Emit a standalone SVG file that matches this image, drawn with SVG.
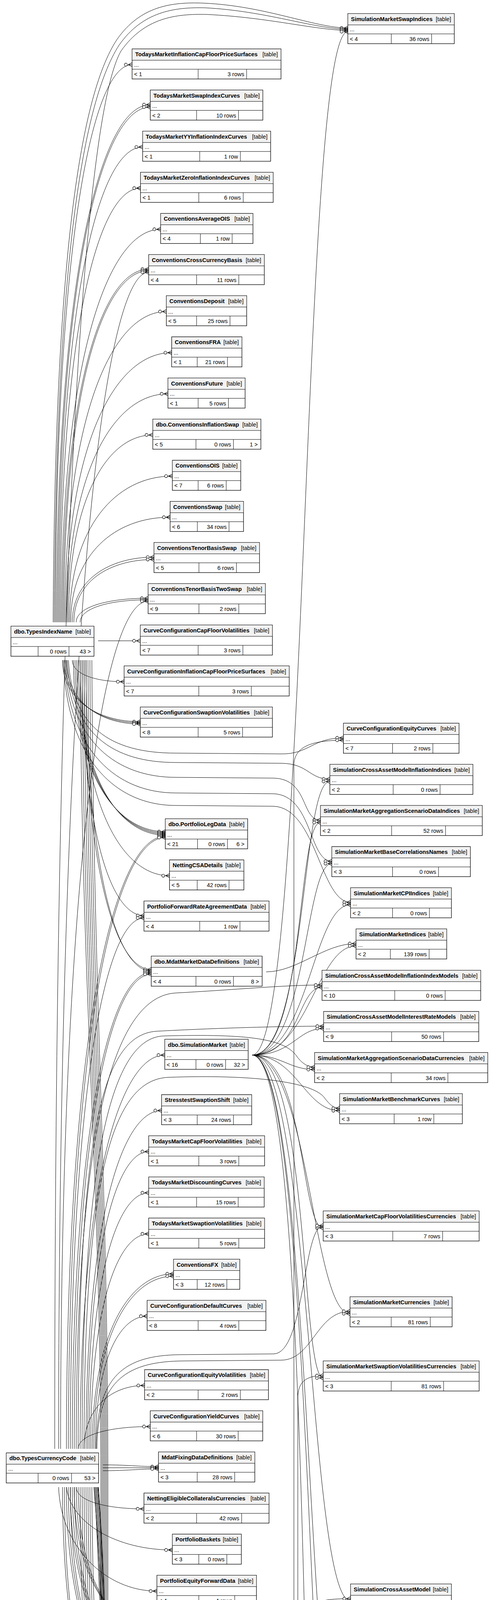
<svg xmlns="http://www.w3.org/2000/svg" width="1264" height="7813" viewBox="0 0 1264 7813">
<style>
text{font-family:"Liberation Sans",Arial,Helvetica,sans-serif;font-size:14.5px;fill:#000}
.n{font-weight:bold}
.e{text-anchor:end}
.o{fill:#fff;stroke:#000;stroke-width:1.3}
.f{stroke-width:3}
.h{fill:#f2f2f2}
.l{fill:none;stroke:#000;stroke-width:1}
#connectors path{fill:none;stroke:#000;stroke-width:1;marker-end:url(#cf)}
#connectors path.k{marker-end:url(#cf2)}
</style>
<defs>
<marker id="cf" markerUnits="userSpaceOnUse" markerWidth="30" markerHeight="16" viewBox="-24 -8 30 16" refX="0" refY="0" orient="auto">
<path d="M-10 0L0-5M-10 0H0M-10 0L0 5" fill="none" stroke="#000" stroke-width="1.2"/>
<circle cx="-16" cy="0" r="3.8" fill="#fff" stroke="#000" stroke-width="1.2"/>
</marker>
<marker id="cf2" markerUnits="userSpaceOnUse" markerWidth="30" markerHeight="16" viewBox="-24 -8 30 16" refX="0" refY="0" orient="auto">
<path d="M-10 0L0-5V5Z" fill="#000" stroke="#000" stroke-width="1.2"/>
<circle cx="-16" cy="0" r="3.8" fill="#fff" stroke="#000" stroke-width="1.2"/>
</marker>
</defs>
<rect width="1264" height="7813" fill="#fff"/>
<g id="connectors">
<path d="M136,1593C140,700 200,250 300,100C360,15 440,5 520,8C680,15 800,70 890,72"/>
<path d="M139,1593C143,720 205,270 305,115C365,30 445,18 525,20C680,28 800,73 890,75"/>
<path d="M140,3709C140,1500 210,300 310,130C370,45 450,35 530,37C690,45 800,76 890,78"/>
<path d="M142,1593C142,665 230,165.5 338,165.5"/>
<path d="M145,1593C145,732 253,268 384.5,268"/>
<path d="M148,1593C148,736 254,274 384.5,274"/>
<path d="M151,1593C151,802 247,376.3 365,376.3"/>
<path d="M154,1593C154,871 246,481.6 359.5,481.6"/>
<path d="M157,1593C157,939 271,587 411,587"/>
<path d="M160,1593C160,1005 259,689 380.5,689"/>
<path d="M163,1593C163,1008 261,693 380.5,693"/>
<path d="M150,3709C150,1751 254,697 380.5,697"/>
<path d="M166,1593C166,1076 283,797.5 425.6,797.5"/>
<path d="M169,1593C169,1144 291,902.8 439.3,902.8"/>
<path d="M172,1593C172,1213 288,1008.2 429.7,1008.2"/>
<path d="M175,1593C175,1281 272,1113.5 391,1113.5"/>
<path d="M178,1593C178,1350 296,1218.8 441,1218.8"/>
<path d="M181,1593C181,1418 295,1324.1 435.3,1324.1"/>
<path d="M185,1593C185,1485 279,1426.3 394,1426.3"/>
<path d="M189,1593C189,1488 281,1432.3 394,1432.3"/>
<path d="M195,1593C195,1553 278,1531.5 379,1531.5"/>
<path d="M205,1593C205,1556 283,1535.5 379,1535.5"/>
<path d="M155,3709C155,2298 256,1539 379,1539"/>
<path d="M251,1640.5H359"/>
<path d="M185,1690C185,1726 245,1745.2 317.6,1745.2"/>
<path d="M160,1690C160,1792 250,1847.5 359,1847.5"/>
<path d="M165,1690C165,1794 252,1850.5 359,1850.5"/>
<path d="M170,1690C170,1796 255,1853.5 359,1853.5"/>
<path d="M175,1690C185,1860 280,1928 450,1928L720,1930C790,1931 800,1889 878.7,1889"/>
<path d="M172,1690C182,1880 290,1952 450,1952L720,1954C790,1955 790,1994.5 844,1994.5"/>
<path d="M168,1690C178,1900 300,1990 450,1990L700,1992C790,1994 770,2099.5 820,2099.5"/>
<path d="M165,1690C175,1925 300,2030 450,2030L700,2032C800,2036 790,2204.8 849,2204.8"/>
<path d="M162,1690C172,1950 300,2062 450,2062L700,2064C810,2068 820,2310 897,2310"/>
<path d="M188,1690C188,1975 294,2129 423,2129"/>
<path d="M192,1690C192,1977 296,2132 423,2132"/>
<path d="M196,1690C196,1979 298,2135 423,2135"/>
<path d="M200,1690C200,1982 300,2138 423,2138"/>
<path d="M205,1690C205,2049 308,2241.8 433.7,2241.8"/>
<path d="M210,1690C210,2115 281,2344 368.4,2344"/>
<path d="M215,1690C215,2205 292,2482 387,2482"/>
<path d="M220,1690C220,2207 295,2486 387,2486"/>
<path class="k" d="M205,1690C210,2600 258,3000 258,3800L258,4840C258,4920 288,4960 325,4960"/>
<path d="M210,1690C215,2600 261,3000 261,3800L261,5072C261,5152 291,5192.5 392.6,5192.5"/>
<path d="M215,1690C220,2600 264,3000 264,3800L264,5175C264,5255 294,5295.5 383,5295.5"/>
<path d="M220,1690C225,2600 267,3000 267,3800L267,5282C267,5362 297,5401.7 376.5,5401.7"/>
<path d="M225,1690C230,2600 270,3000 270,3800L270,5387C270,5467 300,5507 420.8,5507"/>
<path d="M230,1690C235,2600 273,3000 273,3800L273,5495C273,5575 303,5615.3 354,5615.3"/>
<path d="M235,1690C240,2600 276,3000 276,3800L276,5600C276,5680 306,5720.5 349,5720.5"/>
<path d="M681,2488C760,2488 830,2415.5 911,2415.5"/>
<path d="M645,2701C790,2701 770,81 890,81"/>
<path d="M645,2701C785,2701 770,2000.5 844,2000.5"/>
<path d="M645,2701C780,2701 760,2105.5 820,2105.5"/>
<path d="M645,2701C785,2701 780,2210.8 849,2210.8"/>
<path d="M645,2701C790,2701 800,2316 897,2316"/>
<path d="M645,2701C790,2701 810,2421.5 911,2421.5"/>
<path d="M645,2701C770,2701 760,2527.5 824,2527.5"/>
<path d="M645,2701C750,2701 760,2633 828,2633"/>
<path d="M645,2701C720,2701 740,2738 805,2738"/>
<path d="M645,2701C760,2701 780,2843.3 869,2843.3"/>
<path d="M645,2701C780,2701 770,3143.5 827,3143.5"/>
<path d="M645,2701C790,2701 800,3363 895.6,3363"/>
<path d="M645,2701C790,2701 770,3527.5 827,3527.5"/>
<path d="M645,2701C795,2701 790,4098.5 897,4098.5"/>
<path d="M645,2701C790,2701 790,4437.7 858.5,4437.7"/>
<path d="M645,2701C795,2701 790,4659 849,4659"/>
<path d="M645,2701C795,2701 770,4826 809.3,4826"/>
<path d="M170,3709C170,2690 284,2141 423,2141"/>
<path d="M175,3709C175,2692 287,2144 423,2144"/>
<path d="M180,3709C180,2826 265,2350 368.4,2350"/>
<path d="M185,3709C185,2917 276,2490 387,2490"/>
<path d="M190,3709C190,2919 279,2494 387,2494"/>
<path d="M195,3709C195,2850 300,2550 450,2542C600,2534 720,2522 824,2521.5"/>
<path d="M200,3709C200,2900 260,2650 400,2640C550,2632 720,2627 828,2627"/>
<path d="M205,3709C205,3054 302,2701 421.6,2701"/>
<path d="M210,3709C210,2960 285,2655 420,2652C640,2646 730,2660 760,2705C775,2725 790,2732 805,2732"/>
<path d="M215,3709C215,3000 290,2765 430,2758C650,2750 800,2770 830,2810C845,2830 855,2837.3 869,2837.3"/>
<path d="M220,3709C220,3146 307,2843 413.5,2843"/>
<path d="M224,3709C224,3214 294,2948 380.5,2948"/>
<path d="M228,3709C228,3283 297,3053.5 380.5,3053.5"/>
<path d="M232,3709C232,3351 299,3158.7 380.5,3158.7"/>
<path d="M236,3709C236,3418 330,3261 444,3261"/>
<path d="M240,3709C240,3422 332,3267 444,3267"/>
<path d="M244,3709C244,3488 304,3369.4 376.5,3369.4"/>
<path d="M246,3709C246,3520 320,3470 460,3468L700,3466C780,3465 775,3137.5 827,3137.5"/>
<path d="M248,3709C248,3530 330,3485 470,3484L720,3482C800,3481 810,3357 895.6,3357"/>
<path d="M215,3709C215,3604 285,3546.8 370,3546.8"/>
<path d="M200,3709C200,3672 283,3652 384.5,3652"/>
<path d="M263,3750C330,3750 350,3754.5 405.5,3754.5"/>
<path d="M263,3757.5H405.5"/>
<path d="M263,3765C330,3765 350,3760.5 405.5,3760.5"/>
<path d="M195,3807C195,3843 273,3862.7 368.4,3862.7"/>
<path d="M170,3807C180,3900 300,3967.9 441,3967.9"/>
<path d="M150,3807C155,3960 270,4073.2 401.5,4073.2"/>
<path d="M190,3807C190,4046 288,4175.5 407,4175.5"/>
<path d="M195,3807C195,4048 290,4178.5 407,4178.5"/>
<path d="M200,3807C200,4050 293,4181.5 407,4181.5"/>
<path d="M180,3807C180,4115 286,4280.8 415,4280.8"/>
<path d="M185,3807C185,4117 288,4283.8 415,4283.8"/>
<path d="M190,3807C190,4119 291,4286.8 415,4286.8"/>
<path d="M170,3807C170,4183 282,4386.1 420,4386.1"/>
<path d="M175,3807C175,4185 285,4389.1 420,4389.1"/>
<path d="M180,3807C180,4187 288,4392.1 420,4392.1"/>
<path d="M165,3807C165,4254 245,4494.5 343.4,4494.5"/>
<path d="M160,3807C160,4322 277,4599.7 420,4599.7"/>
<path d="M205,3807C210,4420 235,4660 440,4660L700,4660C745,4660 752,4630 752,4585L752,1960C752,1915 790,1895 878.7,1895"/>
<path d="M210,3807C215,4440 245,4676 450,4676L700,4676C755,4676 762,4645 762,4600L762,3580C762,3540 780,3521.5 827,3521.5"/>
<path d="M215,3807C220,4470 255,4726 460,4726L700,4726C765,4726 772,4695 772,4650L772,4150C772,4110 800,4092.5 897,4092.5"/>
<path d="M220,3807C225,4490 265,4747 470,4747L700,4747C775,4747 782,4715 782,4675L782,4480C782,4445 810,4431.7 858.5,4431.7"/>
<path d="M225,3807C230,4520 275,4789 480,4789L700,4789C780,4789 790,4760 790,4725L790,4690C790,4665 810,4653 849,4653"/>
<path d="M230,3807C235,4550 285,4827 490,4827C620,4827 740,4817 809.3,4817"/>
<path d="M235,3807C240,4570 295,4842 500,4842C630,4842 750,4823 809.3,4821"/>
<path class="k" d="M240,3807C275,4200 275,4931 325,4931"/>
<path d="M242,3807C280,4500 280,5829 400.6,5829"/>
<path d="M244,3807C284,4500 284,5934.2 408.7,5934.2"/>
<path d="M246,3807C288,4500 288,6039.5 372.4,6039.5"/>
<path d="M248,3807C292,4500 292,6144.8 400.6,6144.8"/>
<path d="M250,3807C296,4500 296,6355.5 390,6355.5"/>
<path d="M251,3807C300,4500 300,6460.8 380.5,6460.8"/>
<path d="M252,3807C304,4500 304,6882 394,6882"/>
<path class="k" d="M135,6357C135,5417 220,4911 325,4911"/>
<path d="M138,6357C138,5598 253,5189.5 392.6,5189.5"/>
<path d="M141,6357C141,5873 237,5612.3 354,5612.3"/>
<path d="M144,6357C144,5941 236,5717.5 349,5717.5"/>
<path d="M150,6357C150,6147 250,6033.5 372.4,6033.5"/>
<path d="M171,6357C171,6286 262,6247.1 372.4,6247.1"/>
<path d="M255,6385C320,6380 340,6349.5 390,6349.5"/>
<path d="M255,6425C320,6430 330,6454.8 380.5,6454.8"/>
<path d="M255,6435C300,6440 300,6560 383,6560"/>
<path d="M255,6438C305,6445 300,6665.5 408.7,6665.5"/>
<path d="M255,6440C310,6450 300,6770.3 396.6,6770.3"/>
<path d="M255,6442C312,6455 300,6876 394,6876"/>
<path d="M255,6443C315,6460 300,6981.4 376.5,6981.4"/>
<path d="M255,6444C318,6465 300,7087 362,7087"/>
<path d="M255,6444C320,6470 300,7191.5 395,7191.5"/>
<path class="k" d="M246,6478C300,6470 290,5004 325,5004"/>
<path d="M246,6480C305,6470 300,5195.5 392.6,5195.5"/>
<path d="M246,6482C308,6470 300,5301.5 383,5301.5"/>
<path d="M246,6484C310,6472 300,5407.7 376.5,5407.7"/>
<path d="M246,6486C312,6472 305,5513 420.8,5513"/>
<path d="M246,6488C312,6474 300,5618.3 354,5618.3"/>
<path d="M246,6490C312,6476 300,5723.5 349,5723.5"/>
<path d="M246,6492C314,6478 310,5823 400.6,5823"/>
<path d="M246,6494C314,6480 310,5928.2 408.7,5928.2"/>
<path d="M246,6496C315,6482 305,6036.5 372.4,6036.5"/>
<path d="M246,6498C315,6484 310,6138.8 400.6,6138.8"/>
<path d="M246,6500C300,6490 320,6352.5 390,6352.5"/>
<path d="M246,6505C300,6500 320,6457.8 380.5,6457.8"/>
<path d="M246,6540C300,6548 330,6566 383,6566"/>
<path d="M190,6560C190,6632 288,6671.5 408.7,6671.5"/>
<path d="M185,6560C185,6701 280,6776.3 396.6,6776.3"/>
<path d="M180,6560C180,6767 276,6879 394,6879"/>
<path d="M175,6560C175,6838 266,6987.4 376.5,6987.4"/>
<path d="M170,6560C170,6906 256,7093 362,7093"/>
<path d="M165,6560C165,6974 268,7197.5 395,7197.5"/>
<path d="M160,6560C160,7041 278,7300 423.2,7300"/>
<path d="M155,6560C155,7110 276,7405.7 424.8,7405.7"/>
<path d="M150,6560C150,7178 268,7511.2 412,7511.2"/>
<path d="M145,6560C145,7247 277,7616.7 437.7,7616.7"/>
<path d="M140,6560C140,7315 268,7721.4 424.8,7721.4"/>
</g>
<g id="TodaysMarketInflationCapFloorPriceSurfaces" transform="translate(338,125.2)"><rect class="o" width="381" height="77"/><rect class="h" x="0.7" y="0.7" width="379.6" height="28"/><path class="l" d="M0 29H381M0 52H381M169 52V77M293 52V77"/><text class="n" x="8" y="19">TodaysMarketInflationCapFloorPriceSurfaces</text><text class="e" x="373" y="19">[table]</text><text x="5" y="45.5">...</text><text x="5" y="70">&lt; 1</text><text class="e" x="287" y="70">3 rows</text></g>
<g id="TodaysMarketSwapIndexCurves" transform="translate(384.5,230.5)"><rect class="o" width="288" height="77"/><rect class="h" x="0.7" y="0.7" width="286.6" height="28"/><path class="l" d="M0 29H288M0 52H288M118.5 52V77M225.7 52V77"/><text class="n" x="8" y="19">TodaysMarketSwapIndexCurves</text><text class="e" x="280" y="19">[table]</text><text x="5" y="45.5">...</text><text x="5" y="70">&lt; 2</text><text class="e" x="219.7" y="70">10 rows</text></g>
<g id="TodaysMarketYYInflationIndexCurves" transform="translate(365,335.8)"><rect class="o" width="327.5" height="77"/><rect class="h" x="0.7" y="0.7" width="326.1" height="28"/><path class="l" d="M0 29H327.5M0 52H327.5M146 52V77M250 52V77"/><text class="n" x="8" y="19">TodaysMarketYYInflationIndexCurves</text><text class="e" x="319.5" y="19">[table]</text><text x="5" y="45.5">...</text><text x="5" y="70">&lt; 1</text><text class="e" x="244" y="70">1 row</text></g>
<g id="TodaysMarketZeroInflationIndexCurves" transform="translate(359.5,441.1)"><rect class="o" width="339.5" height="77"/><rect class="h" x="0.7" y="0.7" width="338.1" height="28"/><path class="l" d="M0 29H339.5M0 52H339.5M149.2 52V77M262.8 52V77"/><text class="n" x="8" y="19">TodaysMarketZeroInflationIndexCurves</text><text class="e" x="331.5" y="19">[table]</text><text x="5" y="45.5">...</text><text x="5" y="70">&lt; 1</text><text class="e" x="256.8" y="70">6 rows</text></g>
<g id="ConventionsAverageOIS" transform="translate(411,546.4)"><rect class="o" width="236.3" height="77"/><rect class="h" x="0.7" y="0.7" width="234.9" height="28"/><path class="l" d="M0 29H236.3M0 52H236.3M101.7 52V77M183 52V77"/><text class="n" x="8" y="19">ConventionsAverageOIS</text><text class="e" x="228.3" y="19">[table]</text><text x="5" y="45.5">...</text><text x="5" y="70">&lt; 4</text><text class="e" x="177" y="70">1 row</text></g>
<g id="ConventionsCrossCurrencyBasis" transform="translate(380.5,651.7)"><rect class="o" width="295.8" height="77"/><rect class="h" x="0.7" y="0.7" width="294.4" height="28"/><path class="l" d="M0 29H295.8M0 52H295.8M122.5 52V77M230.5 52V77"/><text class="n" x="8" y="19">ConventionsCrossCurrencyBasis</text><text class="e" x="287.8" y="19">[table]</text><text x="5" y="45.5">...</text><text x="5" y="70">&lt; 4</text><text class="e" x="224.5" y="70">11 rows</text></g>
<g id="ConventionsDeposit" transform="translate(425.6,757)"><rect class="o" width="205.6" height="77"/><rect class="h" x="0.7" y="0.7" width="204.2" height="28"/><path class="l" d="M0 29H205.6M0 52H205.6M77.4 52V77M162.9 52V77"/><text class="n" x="8" y="19">ConventionsDeposit</text><text class="e" x="197.6" y="19">[table]</text><text x="5" y="45.5">...</text><text x="5" y="70">&lt; 5</text><text class="e" x="156.9" y="70">25 rows</text></g>
<g id="ConventionsFRA" transform="translate(439.3,862.3)"><rect class="o" width="179.7" height="77"/><rect class="h" x="0.7" y="0.7" width="178.3" height="28"/><path class="l" d="M0 29H179.7M0 52H179.7M65.3 52V77M142.7 52V77"/><text class="n" x="8" y="19">ConventionsFRA</text><text class="e" x="171.7" y="19">[table]</text><text x="5" y="45.5">...</text><text x="5" y="70">&lt; 1</text><text class="e" x="136.7" y="70">21 rows</text></g>
<g id="ConventionsFuture" transform="translate(429.7,967.7)"><rect class="o" width="197.5" height="77"/><rect class="h" x="0.7" y="0.7" width="196.1" height="28"/><path class="l" d="M0 29H197.5M0 52H197.5M77.3 52V77M154.7 52V77"/><text class="n" x="8" y="19">ConventionsFuture</text><text class="e" x="189.5" y="19">[table]</text><text x="5" y="45.5">...</text><text x="5" y="70">&lt; 1</text><text class="e" x="148.7" y="70">5 rows</text></g>
<g id="dbo_ConventionsInflationSwap" transform="translate(391,1073)"><rect class="o" width="276.5" height="77"/><rect class="h" x="0.7" y="0.7" width="275.1" height="28"/><path class="l" d="M0 29H276.5M0 52H276.5M110.4 52V77M206.3 52V77"/><text class="n" x="8" y="19">dbo.ConventionsInflationSwap</text><text class="e" x="268.5" y="19">[table]</text><text x="5" y="45.5">...</text><text x="5" y="70">&lt; 5</text><text class="e" x="200.3" y="70">0 rows</text><text class="e" x="268.5" y="70">1 &gt;</text></g>
<g id="ConventionsOIS" transform="translate(441,1178.3)"><rect class="o" width="175" height="77"/><rect class="h" x="0.7" y="0.7" width="173.6" height="28"/><path class="l" d="M0 29H175M0 52H175M66 52V77M137.8 52V77"/><text class="n" x="8" y="19">ConventionsOIS</text><text class="e" x="167" y="19">[table]</text><text x="5" y="45.5">...</text><text x="5" y="70">&lt; 7</text><text class="e" x="131.8" y="70">6 rows</text></g>
<g id="ConventionsSwap" transform="translate(435.3,1283.6)"><rect class="o" width="187.8" height="77"/><rect class="h" x="0.7" y="0.7" width="186.4" height="28"/><path class="l" d="M0 29H187.8M0 52H187.8M69.7 52V77M150.7 52V77"/><text class="n" x="8" y="19">ConventionsSwap</text><text class="e" x="179.8" y="19">[table]</text><text x="5" y="45.5">...</text><text x="5" y="70">&lt; 6</text><text class="e" x="144.7" y="70">34 rows</text></g>
<g id="ConventionsTenorBasisSwap" transform="translate(394,1388.8)"><rect class="o" width="270" height="77"/><rect class="h" x="0.7" y="0.7" width="268.6" height="28"/><path class="l" d="M0 29H270M0 52H270M115 52V77M211 52V77"/><text class="n" x="8" y="19">ConventionsTenorBasisSwap</text><text class="e" x="262" y="19">[table]</text><text x="5" y="45.5">...</text><text x="5" y="70">&lt; 5</text><text class="e" x="205" y="70">6 rows</text></g>
<g id="ConventionsTenorBasisTwoSwap" transform="translate(379,1494)"><rect class="o" width="300" height="77"/><rect class="h" x="0.7" y="0.7" width="298.6" height="28"/><path class="l" d="M0 29H300M0 52H300M130 52V77M232 52V77"/><text class="n" x="8" y="19">ConventionsTenorBasisTwoSwap</text><text class="e" x="292" y="19">[table]</text><text x="5" y="45.5">...</text><text x="5" y="70">&lt; 9</text><text class="e" x="226" y="70">2 rows</text></g>
<g id="dbo_TypesIndexName" transform="translate(28,1603)"><rect class="o" width="212.5" height="77"/><rect class="h" x="0.7" y="0.7" width="211.1" height="28"/><path class="l" d="M0 29H212.5M0 52H212.5M69.5 52V77M148.5 52V77"/><text class="n" x="8" y="19">dbo.TypesIndexName</text><text class="e" x="204.5" y="19">[table]</text><text x="5" y="45.5">...</text><text class="e" x="142.5" y="70">0 rows</text><text class="e" x="204.5" y="70">43 &gt;</text></g>
<g id="CurveConfigurationCapFloorVolatilities" transform="translate(359,1600)"><rect class="o" width="338" height="77"/><rect class="h" x="0.7" y="0.7" width="336.6" height="28"/><path class="l" d="M0 29H338M0 52H338M148 52V77M262.5 52V77"/><text class="n" x="8" y="19">CurveConfigurationCapFloorVolatilities</text><text class="e" x="330" y="19">[table]</text><text x="5" y="45.5">...</text><text x="5" y="70">&lt; 7</text><text class="e" x="256.5" y="70">3 rows</text></g>
<g id="CurveConfigurationInflationCapFloorPriceSurfaces" transform="translate(317.6,1704.7)"><rect class="o" width="422.4" height="77"/><rect class="h" x="0.7" y="0.7" width="421" height="28"/><path class="l" d="M0 29H422.4M0 52H422.4M191.1 52V77M325.4 52V77"/><text class="n" x="8" y="19">CurveConfigurationInflationCapFloorPriceSurfaces</text><text class="e" x="414.4" y="19">[table]</text><text x="5" y="45.5">...</text><text x="5" y="70">&lt; 7</text><text class="e" x="319.4" y="70">3 rows</text></g>
<g id="CurveConfigurationSwaptionVolatilities" transform="translate(359,1810)"><rect class="o" width="338" height="77"/><rect class="h" x="0.7" y="0.7" width="336.6" height="28"/><path class="l" d="M0 29H338M0 52H338M148 52V77M261.7 52V77"/><text class="n" x="8" y="19">CurveConfigurationSwaptionVolatilities</text><text class="e" x="330" y="19">[table]</text><text x="5" y="45.5">...</text><text x="5" y="70">&lt; 8</text><text class="e" x="255.7" y="70">5 rows</text></g>
<g id="dbo_PortfolioLegData" transform="translate(423,2096)"><rect class="o" width="210.6" height="77"/><rect class="h" x="0.7" y="0.7" width="209.2" height="28"/><path class="l" d="M0 29H210.6M0 52H210.6M82.4 52V77M159 52V77"/><text class="n" x="8" y="19">dbo.PortfolioLegData</text><text class="e" x="202.6" y="19">[table]</text><text x="5" y="45.5">...</text><text x="5" y="70">&lt; 21</text><text class="e" x="153" y="70">0 rows</text><text class="e" x="202.6" y="70">6 &gt;</text></g>
<g id="NettingCSADetails" transform="translate(433.7,2201.3)"><rect class="o" width="190.3" height="77"/><rect class="h" x="0.7" y="0.7" width="188.9" height="28"/><path class="l" d="M0 29H190.3M0 52H190.3M70.9 52V77M152.3 52V77"/><text class="n" x="8" y="19">NettingCSADetails</text><text class="e" x="182.3" y="19">[table]</text><text x="5" y="45.5">...</text><text x="5" y="70">&lt; 5</text><text class="e" x="146.3" y="70">42 rows</text></g>
<g id="PortfolioForwardRateAgreementData" transform="translate(368.4,2306.6)"><rect class="o" width="320" height="77"/><rect class="h" x="0.7" y="0.7" width="318.6" height="28"/><path class="l" d="M0 29H320M0 52H320M142.6 52V77M245.6 52V77"/><text class="n" x="8" y="19">PortfolioForwardRateAgreementData</text><text class="e" x="312" y="19">[table]</text><text x="5" y="45.5">...</text><text x="5" y="70">&lt; 4</text><text class="e" x="239.6" y="70">1 row</text></g>
<g id="dbo_MdatMarketDataDefinitions" transform="translate(387,2447.6)"><rect class="o" width="283.7" height="77"/><rect class="h" x="0.7" y="0.7" width="282.3" height="28"/><path class="l" d="M0 29H283.7M0 52H283.7M114.4 52V77M210.3 52V77"/><text class="n" x="8" y="19">dbo.MdatMarketDataDefinitions</text><text class="e" x="275.7" y="19">[table]</text><text x="5" y="45.5">...</text><text x="5" y="70">&lt; 4</text><text class="e" x="204.3" y="70">0 rows</text><text class="e" x="275.7" y="70">8 &gt;</text></g>
<g id="dbo_SimulationMarket" transform="translate(421.6,2660.5)"><rect class="o" width="213.4" height="77"/><rect class="h" x="0.7" y="0.7" width="212" height="28"/><path class="l" d="M0 29H213.4M0 52H213.4M79.8 52V77M155.6 52V77"/><text class="n" x="8" y="19">dbo.SimulationMarket</text><text class="e" x="205.4" y="19">[table]</text><text x="5" y="45.5">...</text><text x="5" y="70">&lt; 16</text><text class="e" x="149.6" y="70">0 rows</text><text class="e" x="205.4" y="70">32 &gt;</text></g>
<g id="StresstestSwaptionShift" transform="translate(413.5,2802.3)"><rect class="o" width="230.5" height="77"/><rect class="h" x="0.7" y="0.7" width="229.1" height="28"/><path class="l" d="M0 29H230.5M0 52H230.5M91.1 52V77M183.8 52V77"/><text class="n" x="8" y="19">StresstestSwaptionShift</text><text class="e" x="222.5" y="19">[table]</text><text x="5" y="45.5">...</text><text x="5" y="70">&lt; 3</text><text class="e" x="177.8" y="70">24 rows</text></g>
<g id="TodaysMarketCapFloorVolatilities" transform="translate(380.5,2907.6)"><rect class="o" width="296.5" height="77"/><rect class="h" x="0.7" y="0.7" width="295.1" height="28"/><path class="l" d="M0 29H296.5M0 52H296.5M128.2 52V77M230.5 52V77"/><text class="n" x="8" y="19">TodaysMarketCapFloorVolatilities</text><text class="e" x="288.5" y="19">[table]</text><text x="5" y="45.5">...</text><text x="5" y="70">&lt; 1</text><text class="e" x="224.5" y="70">3 rows</text></g>
<g id="TodaysMarketDiscountingCurves" transform="translate(380.5,3013)"><rect class="o" width="295.5" height="77"/><rect class="h" x="0.7" y="0.7" width="294.1" height="28"/><path class="l" d="M0 29H295.5M0 52H295.5M122.5 52V77M228.9 52V77"/><text class="n" x="8" y="19">TodaysMarketDiscountingCurves</text><text class="e" x="287.5" y="19">[table]</text><text x="5" y="45.5">...</text><text x="5" y="70">&lt; 1</text><text class="e" x="222.9" y="70">15 rows</text></g>
<g id="TodaysMarketSwaptionVolatilities" transform="translate(380.5,3118.2)"><rect class="o" width="296.5" height="77"/><rect class="h" x="0.7" y="0.7" width="295.1" height="28"/><path class="l" d="M0 29H296.5M0 52H296.5M128.2 52V77M230.5 52V77"/><text class="n" x="8" y="19">TodaysMarketSwaptionVolatilities</text><text class="e" x="288.5" y="19">[table]</text><text x="5" y="45.5">...</text><text x="5" y="70">&lt; 1</text><text class="e" x="224.5" y="70">5 rows</text></g>
<g id="ConventionsFX" transform="translate(444,3223.6)"><rect class="o" width="169.5" height="77"/><rect class="h" x="0.7" y="0.7" width="168.1" height="28"/><path class="l" d="M0 29H169.5M0 52H169.5M60.6 52V77M136.4 52V77"/><text class="n" x="8" y="19">ConventionsFX</text><text class="e" x="161.5" y="19">[table]</text><text x="5" y="45.5">...</text><text x="5" y="70">&lt; 3</text><text class="e" x="130.4" y="70">12 rows</text></g>
<g id="CurveConfigurationDefaultCurves" transform="translate(376.5,3328.9)"><rect class="o" width="303.9" height="77"/><rect class="h" x="0.7" y="0.7" width="302.5" height="28"/><path class="l" d="M0 29H303.9M0 52H303.9M130.5 52V77M234.5 52V77"/><text class="n" x="8" y="19">CurveConfigurationDefaultCurves</text><text class="e" x="295.9" y="19">[table]</text><text x="5" y="45.5">...</text><text x="5" y="70">&lt; 8</text><text class="e" x="228.5" y="70">4 rows</text></g>
<g id="CurveConfigurationEquityVolatilities" transform="translate(370,3506.3)"><rect class="o" width="316.8" height="77"/><rect class="h" x="0.7" y="0.7" width="315.4" height="28"/><path class="l" d="M0 29H316.8M0 52H316.8M137 52V77M245 52V77"/><text class="n" x="8" y="19">CurveConfigurationEquityVolatilities</text><text class="e" x="308.8" y="19">[table]</text><text x="5" y="45.5">...</text><text x="5" y="70">&lt; 2</text><text class="e" x="239" y="70">2 rows</text></g>
<g id="CurveConfigurationYieldCurves" transform="translate(384.5,3611.6)"><rect class="o" width="287.8" height="77"/><rect class="h" x="0.7" y="0.7" width="286.4" height="28"/><path class="l" d="M0 29H287.8M0 52H287.8M118.5 52V77M224.9 52V77"/><text class="n" x="8" y="19">CurveConfigurationYieldCurves</text><text class="e" x="279.8" y="19">[table]</text><text x="5" y="45.5">...</text><text x="5" y="70">&lt; 6</text><text class="e" x="218.9" y="70">30 rows</text></g>
<g id="dbo_TypesCurrencyCode" transform="translate(16,3719.4)"><rect class="o" width="236.3" height="77"/><rect class="h" x="0.7" y="0.7" width="234.9" height="28"/><path class="l" d="M0 29H236.3M0 52H236.3M81.5 52V77M167 52V77"/><text class="n" x="8" y="19">dbo.TypesCurrencyCode</text><text class="e" x="228.3" y="19">[table]</text><text x="5" y="45.5">...</text><text class="e" x="161" y="70">0 rows</text><text class="e" x="228.3" y="70">53 &gt;</text></g>
<g id="MdatFixingDataDefinitions" transform="translate(405.5,3717)"><rect class="o" width="246.5" height="77"/><rect class="h" x="0.7" y="0.7" width="245.1" height="28"/><path class="l" d="M0 29H246.5M0 52H246.5M99.1 52V77M195.1 52V77"/><text class="n" x="8" y="19">MdatFixingDataDefinitions</text><text class="e" x="238.5" y="19">[table]</text><text x="5" y="45.5">...</text><text x="5" y="70">&lt; 3</text><text class="e" x="189.1" y="70">28 rows</text></g>
<g id="NettingEligibleCollateralsCurrencies" transform="translate(368.4,3822.2)"><rect class="o" width="320" height="77"/><rect class="h" x="0.7" y="0.7" width="318.6" height="28"/><path class="l" d="M0 29H320M0 52H320M134.6 52V77M249.9 52V77"/><text class="n" x="8" y="19">NettingEligibleCollateralsCurrencies</text><text class="e" x="312" y="19">[table]</text><text x="5" y="45.5">...</text><text x="5" y="70">&lt; 2</text><text class="e" x="243.9" y="70">42 rows</text></g>
<g id="PortfolioBaskets" transform="translate(441,3927.4)"><rect class="o" width="176.5" height="77"/><rect class="h" x="0.7" y="0.7" width="175.1" height="28"/><path class="l" d="M0 29H176.5M0 52H176.5M67.7 52V77M139.4 52V77"/><text class="n" x="8" y="19">PortfolioBaskets</text><text class="e" x="168.5" y="19">[table]</text><text x="5" y="45.5">...</text><text x="5" y="70">&lt; 3</text><text class="e" x="133.4" y="70">0 rows</text></g>
<g id="PortfolioEquityForwardData" transform="translate(401.5,4032.7)"><rect class="o" width="254.7" height="77"/><rect class="h" x="0.7" y="0.7" width="253.3" height="28"/><path class="l" d="M0 29H254.7M0 52H254.7M107.2 52V77M199.1 52V77"/><text class="n" x="8" y="19">PortfolioEquityForwardData</text><text class="e" x="246.7" y="19">[table]</text><text x="5" y="45.5">...</text><text x="5" y="70">&lt; 4</text><text class="e" x="193.1" y="70">4 rows</text></g>
<g id="PortfolioEquityOptionData" transform="translate(407,4138)"><rect class="o" width="243.5" height="77"/><rect class="h" x="0.7" y="0.7" width="242.1" height="28"/><path class="l" d="M0 29H243.5M0 52H243.5M97.6 52V77M192 52V77"/><text class="n" x="8" y="19">PortfolioEquityOptionData</text><text class="e" x="235.5" y="19">[table]</text><text x="5" y="45.5">...</text><text x="5" y="70">&lt; 9</text><text class="e" x="186" y="70">10 rows</text></g>
<g id="PortfolioFxForwardData" transform="translate(415,4243.3)"><rect class="o" width="227.5" height="77"/><rect class="h" x="0.7" y="0.7" width="226.1" height="28"/><path class="l" d="M0 29H227.5M0 52H227.5M93.7 52V77M179 52V77"/><text class="n" x="8" y="19">PortfolioFxForwardData</text><text class="e" x="219.5" y="19">[table]</text><text x="5" y="45.5">...</text><text x="5" y="70">&lt; 3</text><text class="e" x="173" y="70">2 rows</text></g>
<g id="PortfolioFxOptionData" transform="translate(420,4348.6)"><rect class="o" width="217.6" height="77"/><rect class="h" x="0.7" y="0.7" width="216.2" height="28"/><path class="l" d="M0 29H217.6M0 52H217.6M88.7 52V77M171 52V77"/><text class="n" x="8" y="19">PortfolioFxOptionData</text><text class="e" x="209.6" y="19">[table]</text><text x="5" y="45.5">...</text><text x="5" y="70">&lt; 9</text><text class="e" x="165" y="70">5 rows</text></g>
<g id="PortfolioIndexCreditDefaultSwapOptionData" transform="translate(343.4,4454)"><rect class="o" width="370.8" height="77"/><rect class="h" x="0.7" y="0.7" width="369.4" height="28"/><path class="l" d="M0 29H370.8M0 52H370.8M165.3 52V77M286.2 52V77"/><text class="n" x="8" y="19">PortfolioIndexCreditDefaultSwapOptionData</text><text class="e" x="362.8" y="19">[table]</text><text x="5" y="45.5">...</text><text x="5" y="70">&lt; 8</text><text class="e" x="280.2" y="70">0 rows</text></g>
<g id="PortfolioSwaptionData" transform="translate(420,4559.2)"><rect class="o" width="217.6" height="77"/><rect class="h" x="0.7" y="0.7" width="216.2" height="28"/><path class="l" d="M0 29H217.6M0 52H217.6M84.6 52V77M172.5 52V77"/><text class="n" x="8" y="19">PortfolioSwaptionData</text><text class="e" x="209.6" y="19">[table]</text><text x="5" y="45.5">...</text><text x="5" y="70">&lt; 7</text><text class="e" x="166.5" y="70">32 rows</text></g>
<g id="SensitivityanalysisCapFloorVolatility" transform="translate(325,4862)"><rect class="o f" width="407" height="261"/><rect class="h" x="1.5" y="1.5" width="404" height="28"/><path class="l" stroke-width="1.5" d="M0 30H407M0 59.4H407M0 88.8H407M0 118.2H407M0 147.6H407M0 177H407M0 206.4H407M0 235.8H407M310 30V235.8M143.4 235.8V261M310 235.8V261"/><text class="n" x="9.5" y="20">SensitivityanalysisCapFloorVolatility</text><text class="e" x="399" y="20">[table]</text><text x="28" y="49.7">AnalysisId</text><text x="313.5" y="49.7">varchar[40]</text><text x="28" y="79.1">ccy</text><text x="313.5" y="79.1">varchar[7]</text><text x="28" y="108.5">IndexName</text><text x="313.5" y="108.5">varchar[30]</text><text x="28" y="137.9">ShiftType</text><text x="313.5" y="137.9">varchar[8]</text><text x="28" y="167.3">ShiftSize</text><text x="313.5" y="167.3">decimal[20,5]</text><text x="28" y="196.7">ShiftExpiries</text><text x="313.5" y="196.7">varchar[100]</text><text x="28" y="226.1">ShiftStrikes</text><text x="313.5" y="226.1">varchar[200]</text><text x="6" y="254">&lt; 4</text><text class="e" x="304" y="254">6 rows</text><text class="e" x="399" y="254">0 &gt;</text></g>
<g id="SensitivityanalysisIndexCurve" transform="translate(392.6,5152)"><rect class="o" width="271.7" height="77"/><rect class="h" x="0.7" y="0.7" width="270.3" height="28"/><path class="l" d="M0 29H271.7M0 52H271.7M110.4 52V77M213.6 52V77"/><text class="n" x="8" y="19">SensitivityanalysisIndexCurve</text><text class="e" x="263.7" y="19">[table]</text><text x="5" y="45.5">...</text><text x="5" y="70">&lt; 3</text><text class="e" x="207.6" y="70">23 rows</text></g>
<g id="StresstestYYInflationIndexCurve" transform="translate(383,5258)"><rect class="o" width="291.7" height="77"/><rect class="h" x="0.7" y="0.7" width="290.3" height="28"/><path class="l" d="M0 29H291.7M0 52H291.7M125.7 52V77M227.2 52V77"/><text class="n" x="8" y="19">StresstestYYInflationIndexCurve</text><text class="e" x="283.7" y="19">[table]</text><text x="5" y="45.5">...</text><text x="5" y="70">&lt; 3</text><text class="e" x="221.2" y="70">0 rows</text></g>
<g id="StresstestZeroInflationIndexCurve" transform="translate(376.5,5364.2)"><rect class="o" width="303.9" height="77"/><rect class="h" x="0.7" y="0.7" width="302.5" height="28"/><path class="l" d="M0 29H303.9M0 52H303.9M130.5 52V77M234.5 52V77"/><text class="n" x="8" y="19">StresstestZeroInflationIndexCurve</text><text class="e" x="295.9" y="19">[table]</text><text x="5" y="45.5">...</text><text x="5" y="70">&lt; 3</text><text class="e" x="228.5" y="70">0 rows</text></g>
<g id="StresstestIndexCurve" transform="translate(420.8,5469.5)"><rect class="o" width="215.2" height="77"/><rect class="h" x="0.7" y="0.7" width="213.8" height="28"/><path class="l" d="M0 29H215.2M0 52H215.2M82.2 52V77M170.2 52V77"/><text class="n" x="8" y="19">StresstestIndexCurve</text><text class="e" x="207.2" y="19">[table]</text><text x="5" y="45.5">...</text><text x="5" y="70">&lt; 3</text><text class="e" x="164.2" y="70">27 rows</text></g>
<g id="SensitivityanalysisYYInflationIndexCurve" transform="translate(354,5574.8)"><rect class="o" width="349" height="77"/><rect class="h" x="0.7" y="0.7" width="347.6" height="28"/><path class="l" d="M0 29H349M0 52H349M153 52V77M269 52V77"/><text class="n" x="8" y="19">SensitivityanalysisYYInflationIndexCurve</text><text class="e" x="341" y="19">[table]</text><text x="5" y="45.5">...</text><text x="5" y="70">&lt; 3</text><text class="e" x="263" y="70">2 rows</text></g>
<g id="SensitivityanalysisZeroInflationIndexCurve" transform="translate(349,5680)"><rect class="o" width="361.2" height="77"/><rect class="h" x="0.7" y="0.7" width="359.8" height="28"/><path class="l" d="M0 29H361.2M0 52H361.2M155.6 52V77M279.8 52V77"/><text class="n" x="8" y="19">SensitivityanalysisZeroInflationIndexCurve</text><text class="e" x="353.2" y="19">[table]</text><text x="5" y="45.5">...</text><text x="5" y="70">&lt; 3</text><text class="e" x="273.8" y="70">10 rows</text></g>
<g id="StresstestCapFloorVolatility" transform="translate(400.6,5785.4)"><rect class="o" width="255.6" height="77"/><rect class="h" x="0.7" y="0.7" width="254.2" height="28"/><path class="l" d="M0 29H255.6M0 52H255.6M106.4 52V77M198.4 52V77"/><text class="n" x="8" y="19">StresstestCapFloorVolatility</text><text class="e" x="247.6" y="19">[table]</text><text x="5" y="45.5">...</text><text x="5" y="70">&lt; 3</text><text class="e" x="192.4" y="70">6 rows</text></g>
<g id="StresstestDiscountCurve" transform="translate(408.7,5890.7)"><rect class="o" width="239.3" height="77"/><rect class="h" x="0.7" y="0.7" width="237.9" height="28"/><path class="l" d="M0 29H239.3M0 52H239.3M94.3 52V77M189.3 52V77"/><text class="n" x="8" y="19">StresstestDiscountCurve</text><text class="e" x="231.3" y="19">[table]</text><text x="5" y="45.5">...</text><text x="5" y="70">&lt; 3</text><text class="e" x="183.3" y="70">12 rows</text></g>
<g id="SensitivityanalysisSwaptionVolatility" transform="translate(372.4,5996)"><rect class="o" width="313.6" height="77"/><rect class="h" x="0.7" y="0.7" width="312.2" height="28"/><path class="l" d="M0 29H313.6M0 52H313.6M136.3 52V77M242.6 52V77"/><text class="n" x="8" y="19">SensitivityanalysisSwaptionVolatility</text><text class="e" x="305.6" y="19">[table]</text><text x="5" y="45.5">...</text><text x="5" y="70">&lt; 3</text><text class="e" x="236.6" y="70">3 rows</text></g>
<g id="StresstestSwaptionVolatility" transform="translate(400.6,6101.3)"><rect class="o" width="255.6" height="77"/><rect class="h" x="0.7" y="0.7" width="254.2" height="28"/><path class="l" d="M0 29H255.6M0 52H255.6M106.4 52V77M198.4 52V77"/><text class="n" x="8" y="19">StresstestSwaptionVolatility</text><text class="e" x="247.6" y="19">[table]</text><text x="5" y="45.5">...</text><text x="5" y="70">&lt; 3</text><text class="e" x="192.4" y="70">6 rows</text></g>
<g id="SensitivityanalysisCrossgammafilter" transform="translate(372.4,6206.6)"><rect class="o" width="313.6" height="77"/><rect class="h" x="0.7" y="0.7" width="312.2" height="28"/><path class="l" d="M0 29H313.6M0 52H313.6M136.3 52V77M242.6 52V77"/><text class="n" x="8" y="19">SensitivityanalysisCrossgammafilter</text><text class="e" x="305.6" y="19">[table]</text><text x="5" y="45.5">...</text><text x="5" y="70">&lt; 1</text><text class="e" x="236.6" y="70">9 rows</text></g>
<g id="SensitivityanalysisCreditCurve" transform="translate(390,6312)"><rect class="o" width="277.5" height="77"/><rect class="h" x="0.7" y="0.7" width="276.1" height="28"/><path class="l" d="M0 29H277.5M0 52H277.5M117 52V77M214.6 52V77"/><text class="n" x="8" y="19">SensitivityanalysisCreditCurve</text><text class="e" x="269.5" y="19">[table]</text><text x="5" y="45.5">...</text><text x="5" y="70">&lt; 4</text><text class="e" x="208.6" y="70">4 rows</text></g>
<g id="dbo_Sensitivityanalysis" transform="translate(25,6367.5)"><rect class="o" width="219.3" height="77"/><rect class="h" x="0.7" y="0.7" width="217.9" height="28"/><path class="l" d="M0 29H219.3M0 52H219.3M72.5 52V77M154 52V77"/><text class="n" x="8" y="19">dbo.Sensitivityanalysis</text><text class="e" x="211.3" y="19">[table]</text><text x="5" y="45.5">...</text><text class="e" x="148" y="70">0 rows</text><text class="e" x="211.3" y="70">15 &gt;</text></g>
<g id="SensitivityanalysisDiscountCurve" transform="translate(380.5,6417.3)"><rect class="o" width="295.8" height="77"/><rect class="h" x="0.7" y="0.7" width="294.4" height="28"/><path class="l" d="M0 29H295.8M0 52H295.8M122.5 52V77M229.7 52V77"/><text class="n" x="8" y="19">SensitivityanalysisDiscountCurve</text><text class="e" x="287.8" y="19">[table]</text><text x="5" y="45.5">...</text><text x="5" y="70">&lt; 3</text><text class="e" x="223.7" y="70">12 rows</text></g>
<g id="dbo_TypesShiftType" transform="translate(34,6473)"><rect class="o" width="201.4" height="77"/><rect class="h" x="0.7" y="0.7" width="200" height="28"/><path class="l" d="M0 29H201.4M0 52H201.4M63.5 52V77M140 52V77"/><text class="n" x="8" y="19">dbo.TypesShiftType</text><text class="e" x="193.4" y="19">[table]</text><text x="5" y="45.5">...</text><text class="e" x="134" y="70">0 rows</text><text class="e" x="193.4" y="70">25 &gt;</text></g>
<g id="SensitivityanalysisEquityVolatility" transform="translate(383,6522.6)"><rect class="o" width="291.7" height="77"/><rect class="h" x="0.7" y="0.7" width="290.3" height="28"/><path class="l" d="M0 29H291.7M0 52H291.7M125.7 52V77M227.2 52V77"/><text class="n" x="8" y="19">SensitivityanalysisEquityVolatility</text><text class="e" x="283.7" y="19">[table]</text><text x="5" y="45.5">...</text><text x="5" y="70">&lt; 3</text><text class="e" x="221.2" y="70">6 rows</text></g>
<g id="SensitivityanalysisFxSpot" transform="translate(408.7,6628)"><rect class="o" width="239.3" height="77"/><rect class="h" x="0.7" y="0.7" width="237.9" height="28"/><path class="l" d="M0 29H239.3M0 52H239.3M98.3 52V77M187.8 52V77"/><text class="n" x="8" y="19">SensitivityanalysisFxSpot</text><text class="e" x="231.3" y="19">[table]</text><text x="5" y="45.5">...</text><text x="5" y="70">&lt; 3</text><text class="e" x="181.8" y="70">9 rows</text></g>
<g id="SensitivityanalysisFxVolatility" transform="translate(396.6,6732.8)"><rect class="o" width="264.4" height="77"/><rect class="h" x="0.7" y="0.7" width="263" height="28"/><path class="l" d="M0 29H264.4M0 52H264.4M112.1 52V77M206.4 52V77"/><text class="n" x="8" y="19">SensitivityanalysisFxVolatility</text><text class="e" x="256.4" y="19">[table]</text><text x="5" y="45.5">...</text><text x="5" y="70">&lt; 3</text><text class="e" x="200.4" y="70">7 rows</text></g>
<g id="SensitivityanalysisYieldCurve" transform="translate(394,6838.4)"><rect class="o" width="268.6" height="77"/><rect class="h" x="0.7" y="0.7" width="267.2" height="28"/><path class="l" d="M0 29H268.6M0 52H268.6M113 52V77M209 52V77"/><text class="n" x="8" y="19">SensitivityanalysisYieldCurve</text><text class="e" x="260.6" y="19">[table]</text><text x="5" y="45.5">...</text><text x="5" y="70">&lt; 3</text><text class="e" x="203" y="70">9 rows</text></g>
<g id="SensitivityanalysisBaseCorrelation" transform="translate(376.5,6943.9)"><rect class="o" width="304.5" height="77"/><rect class="h" x="0.7" y="0.7" width="303.1" height="28"/><path class="l" d="M0 29H304.5M0 52H304.5M132.2 52V77M236.2 52V77"/><text class="n" x="8" y="19">SensitivityanalysisBaseCorrelation</text><text class="e" x="296.5" y="19">[table]</text><text x="5" y="45.5">...</text><text x="5" y="70">&lt; 3</text><text class="e" x="230.2" y="70">0 rows</text></g>
<g id="SensitivityanalysisDividendYieldCurve" transform="translate(362,7049.4)"><rect class="o" width="333" height="77"/><rect class="h" x="0.7" y="0.7" width="331.6" height="28"/><path class="l" d="M0 29H333M0 52H333M145 52V77M258 52V77"/><text class="n" x="8" y="19">SensitivityanalysisDividendYieldCurve</text><text class="e" x="325" y="19">[table]</text><text x="5" y="45.5">...</text><text x="5" y="70">&lt; 3</text><text class="e" x="252" y="70">0 rows</text></g>
<g id="SensitivityanalysisEquitySpot" transform="translate(395,7154)"><rect class="o" width="266.8" height="77"/><rect class="h" x="0.7" y="0.7" width="265.4" height="28"/><path class="l" d="M0 29H266.8M0 52H266.8M112 52V77M207.2 52V77"/><text class="n" x="8" y="19">SensitivityanalysisEquitySpot</text><text class="e" x="258.8" y="19">[table]</text><text x="5" y="45.5">...</text><text x="5" y="70">&lt; 3</text><text class="e" x="201.2" y="70">6 rows</text></g>
<g id="StresstestYieldCurve" transform="translate(423.2,7259.6)"><rect class="o" width="211.2" height="77"/><rect class="h" x="0.7" y="0.7" width="209.8" height="28"/><path class="l" d="M0 29H211.2M0 52H211.2M85.5 52V77M166.8 52V77"/><text class="n" x="8" y="19">StresstestYieldCurve</text><text class="e" x="203.2" y="19">[table]</text><text x="5" y="45.5">...</text><text x="5" y="70">&lt; 3</text><text class="e" x="160.8" y="70">6 rows</text></g>
<g id="StresstestEquitySpot" transform="translate(424.8,7365.2)"><rect class="o" width="208.8" height="77"/><rect class="h" x="0.7" y="0.7" width="207.4" height="28"/><path class="l" d="M0 29H208.8M0 52H208.8M83.9 52V77M163.7 52V77"/><text class="n" x="8" y="19">StresstestEquitySpot</text><text class="e" x="200.8" y="19">[table]</text><text x="5" y="45.5">...</text><text x="5" y="70">&lt; 3</text><text class="e" x="157.7" y="70">6 rows</text></g>
<g id="StresstestEquityVolatility" transform="translate(412,7470.7)"><rect class="o" width="234.5" height="77"/><rect class="h" x="0.7" y="0.7" width="233.1" height="28"/><path class="l" d="M0 29H234.5M0 52H234.5M96.7 52V77M183 52V77"/><text class="n" x="8" y="19">StresstestEquityVolatility</text><text class="e" x="226.5" y="19">[table]</text><text x="5" y="45.5">...</text><text x="5" y="70">&lt; 3</text><text class="e" x="177" y="70">6 rows</text></g>
<g id="StresstestFxSpot" transform="translate(437.7,7576.2)"><rect class="o" width="182.3" height="77"/><rect class="h" x="0.7" y="0.7" width="180.9" height="28"/><path class="l" d="M0 29H182.3M0 52H182.3M66.9 52V77M146.7 52V77"/><text class="n" x="8" y="19">StresstestFxSpot</text><text class="e" x="174.3" y="19">[table]</text><text x="5" y="45.5">...</text><text x="5" y="70">&lt; 3</text><text class="e" x="140.7" y="70">12 rows</text></g>
<g id="StresstestFxVolatility" transform="translate(424.8,7680.9)"><rect class="o" width="207.2" height="77"/><rect class="h" x="0.7" y="0.7" width="205.8" height="28"/><path class="l" d="M0 29H207.2M0 52H207.2M82.2 52V77M162.1 52V77"/><text class="n" x="8" y="19">StresstestFxVolatility</text><text class="e" x="199.2" y="19">[table]</text><text x="5" y="45.5">...</text><text x="5" y="70">&lt; 3</text><text class="e" x="156.1" y="70">9 rows</text></g>
<g id="SimulationMarketSwapIndices" transform="translate(890,34.8)"><rect class="o" width="272.4" height="77"/><rect class="h" x="0.7" y="0.7" width="271" height="28"/><path class="l" d="M0 29H272.4M0 52H272.4M111.2 52V77M214.4 52V77"/><text class="n" x="8" y="19">SimulationMarketSwapIndices</text><text class="e" x="264.4" y="19">[table]</text><text x="5" y="45.5">...</text><text x="5" y="70">&lt; 4</text><text class="e" x="208.4" y="70">36 rows</text></g>
<g id="CurveConfigurationEquityCurves" transform="translate(878.7,1851.4)"><rect class="o" width="295.8" height="77"/><rect class="h" x="0.7" y="0.7" width="294.4" height="28"/><path class="l" d="M0 29H295.8M0 52H295.8M125.7 52V77M228.9 52V77"/><text class="n" x="8" y="19">CurveConfigurationEquityCurves</text><text class="e" x="287.8" y="19">[table]</text><text x="5" y="45.5">...</text><text x="5" y="70">&lt; 7</text><text class="e" x="222.9" y="70">2 rows</text></g>
<g id="SimulationCrossAssetModelInflationIndices" transform="translate(844,1956.7)"><rect class="o" width="366" height="77"/><rect class="h" x="0.7" y="0.7" width="364.6" height="28"/><path class="l" d="M0 29H366M0 52H366M162 52V77M282 52V77"/><text class="n" x="8" y="19">SimulationCrossAssetModelInflationIndices</text><text class="e" x="358" y="19">[table]</text><text x="5" y="45.5">...</text><text x="5" y="70">&lt; 2</text><text class="e" x="276" y="70">0 rows</text></g>
<g id="SimulationMarketAggregationScenarioDataIndices" transform="translate(820,2062)"><rect class="o" width="414" height="77"/><rect class="h" x="0.7" y="0.7" width="412.6" height="28"/><path class="l" d="M0 29H414M0 52H414M182 52V77M320 52V77"/><text class="n" x="8" y="19">SimulationMarketAggregationScenarioDataIndices</text><text class="e" x="406" y="19">[table]</text><text x="5" y="45.5">...</text><text x="5" y="70">&lt; 2</text><text class="e" x="314" y="70">52 rows</text></g>
<g id="SimulationMarketBaseCorrelationsNames" transform="translate(849,2167.3)"><rect class="o" width="354.5" height="77"/><rect class="h" x="0.7" y="0.7" width="353.1" height="28"/><path class="l" d="M0 29H354.5M0 52H354.5M155.4 52V77M273 52V77"/><text class="n" x="8" y="19">SimulationMarketBaseCorrelationsNames</text><text class="e" x="346.5" y="19">[table]</text><text x="5" y="45.5">...</text><text x="5" y="70">&lt; 3</text><text class="e" x="267" y="70">0 rows</text></g>
<g id="SimulationMarketCPIIndices" transform="translate(897,2272.6)"><rect class="o" width="258" height="77"/><rect class="h" x="0.7" y="0.7" width="256.6" height="28"/><path class="l" d="M0 29H258M0 52H258M107.4 52V77M201.7 52V77"/><text class="n" x="8" y="19">SimulationMarketCPIIndices</text><text class="e" x="250" y="19">[table]</text><text x="5" y="45.5">...</text><text x="5" y="70">&lt; 2</text><text class="e" x="195.7" y="70">0 rows</text></g>
<g id="SimulationMarketIndices" transform="translate(911,2378)"><rect class="o" width="232" height="77"/><rect class="h" x="0.7" y="0.7" width="230.6" height="28"/><path class="l" d="M0 29H232M0 52H232M87.8 52V77M187 52V77"/><text class="n" x="8" y="19">SimulationMarketIndices</text><text class="e" x="224" y="19">[table]</text><text x="5" y="45.5">...</text><text x="5" y="70">&lt; 2</text><text class="e" x="181" y="70">139 rows</text></g>
<g id="SimulationCrossAssetModelInflationIndexModels" transform="translate(824,2484)"><rect class="o" width="406" height="77"/><rect class="h" x="0.7" y="0.7" width="404.6" height="28"/><path class="l" d="M0 29H406M0 52H406M186 52V77M315 52V77"/><text class="n" x="8" y="19">SimulationCrossAssetModelInflationIndexModels</text><text class="e" x="398" y="19">[table]</text><text x="5" y="45.5">...</text><text x="5" y="70">&lt; 10</text><text class="e" x="309" y="70">0 rows</text></g>
<g id="SimulationCrossAssetModelInterestRateModels" transform="translate(828,2589.4)"><rect class="o" width="397" height="77"/><rect class="h" x="0.7" y="0.7" width="395.6" height="28"/><path class="l" d="M0 29H397M0 52H397M174 52V77M307 52V77"/><text class="n" x="8" y="19">SimulationCrossAssetModelInterestRateModels</text><text class="e" x="389" y="19">[table]</text><text x="5" y="45.5">...</text><text x="5" y="70">&lt; 9</text><text class="e" x="301" y="70">50 rows</text></g>
<g id="SimulationMarketAggregationScenarioDataCurrencies" transform="translate(805,2694.5)"><rect class="o" width="443" height="77"/><rect class="h" x="0.7" y="0.7" width="441.6" height="28"/><path class="l" d="M0 29H443M0 52H443M196 52V77M341 52V77"/><text class="n" x="8" y="19">SimulationMarketAggregationScenarioDataCurrencies</text><text class="e" x="435" y="19">[table]</text><text x="5" y="45.5">...</text><text x="5" y="70">&lt; 2</text><text class="e" x="335" y="70">34 rows</text></g>
<g id="SimulationMarketBenchmarkCurves" transform="translate(869,2799.8)"><rect class="o" width="314" height="77"/><rect class="h" x="0.7" y="0.7" width="312.6" height="28"/><path class="l" d="M0 29H314M0 52H314M139.5 52V77M241 52V77"/><text class="n" x="8" y="19">SimulationMarketBenchmarkCurves</text><text class="e" x="306" y="19">[table]</text><text x="5" y="45.5">...</text><text x="5" y="70">&lt; 3</text><text class="e" x="235" y="70">1 row</text></g>
<g id="SimulationMarketCapFloorVolatilitiesCurrencies" transform="translate(827,3100)"><rect class="o" width="399" height="77"/><rect class="h" x="0.7" y="0.7" width="397.6" height="28"/><path class="l" d="M0 29H399M0 52H399M178 52V77M305.6 52V77"/><text class="n" x="8" y="19">SimulationMarketCapFloorVolatilitiesCurrencies</text><text class="e" x="391" y="19">[table]</text><text x="5" y="45.5">...</text><text x="5" y="70">&lt; 3</text><text class="e" x="299.6" y="70">7 rows</text></g>
<g id="SimulationMarketCurrencies" transform="translate(895.6,3319.7)"><rect class="o" width="261.2" height="77"/><rect class="h" x="0.7" y="0.7" width="259.8" height="28"/><path class="l" d="M0 29H261.2M0 52H261.2M105.4 52V77M205.4 52V77"/><text class="n" x="8" y="19">SimulationMarketCurrencies</text><text class="e" x="253.2" y="19">[table]</text><text x="5" y="45.5">...</text><text x="5" y="70">&lt; 2</text><text class="e" x="199.4" y="70">81 rows</text></g>
<g id="SimulationMarketSwaptionVolatilitiesCurrencies" transform="translate(827,3484)"><rect class="o" width="399" height="77"/><rect class="h" x="0.7" y="0.7" width="397.6" height="28"/><path class="l" d="M0 29H399M0 52H399M174 52V77M308 52V77"/><text class="n" x="8" y="19">SimulationMarketSwaptionVolatilitiesCurrencies</text><text class="e" x="391" y="19">[table]</text><text x="5" y="45.5">...</text><text x="5" y="70">&lt; 3</text><text class="e" x="302" y="70">81 rows</text></g>
<g id="SimulationCrossAssetModel" transform="translate(897,4055)"><rect class="o" width="258" height="77"/><rect class="h" x="0.7" y="0.7" width="256.6" height="28"/><path class="l" d="M0 29H258M0 52H258M104 52V77M202.6 52V77"/><text class="n" x="8" y="19">SimulationCrossAssetModel</text><text class="e" x="250" y="19">[table]</text><text x="5" y="45.5">...</text><text x="5" y="70">&lt; 2</text><text class="e" x="196.6" y="70">17 rows</text></g>
<g id="SimulationCrossAssetModelCurrencies" transform="translate(858.5,4394.2)"><rect class="o" width="337" height="77"/><rect class="h" x="0.7" y="0.7" width="335.6" height="28"/><path class="l" d="M0 29H337M0 52H337M144.3 52V77M262.8 52V77"/><text class="n" x="8" y="19">SimulationCrossAssetModelCurrencies</text><text class="e" x="329" y="19">[table]</text><text x="5" y="45.5">...</text><text x="5" y="70">&lt; 2</text><text class="e" x="256.8" y="70">76 rows</text></g>
<g id="SimulationCrossAssetModelEquityModels" transform="translate(849,4615.6)"><rect class="o" width="354.5" height="77"/><rect class="h" x="0.7" y="0.7" width="353.1" height="28"/><path class="l" d="M0 29H354.5M0 52H354.5M156 52V77M273 52V77"/><text class="n" x="8" y="19">SimulationCrossAssetModelEquityModels</text><text class="e" x="346.5" y="19">[table]</text><text x="5" y="45.5">...</text><text x="5" y="70">&lt; 5</text><text class="e" x="267" y="70">2 rows</text></g>
<g id="SimulationCrossAssetModelForeignExchangeModels" transform="translate(809.3,4779.8)"><rect class="o" width="436.2" height="77"/><rect class="h" x="0.7" y="0.7" width="434.8" height="28"/><path class="l" d="M0 29H436.2M0 52H436.2M193.5 52V77M336.2 52V77"/><text class="n" x="8" y="19">SimulationCrossAssetModelForeignExchangeModels</text><text class="e" x="428.2" y="19">[table]</text><text x="5" y="45.5">...</text><text x="5" y="70">&lt; 6</text><text class="e" x="330.2" y="70">48 rows</text></g>
<text x="16" y="7797">Generated by SchemaSpy</text>
</svg>
